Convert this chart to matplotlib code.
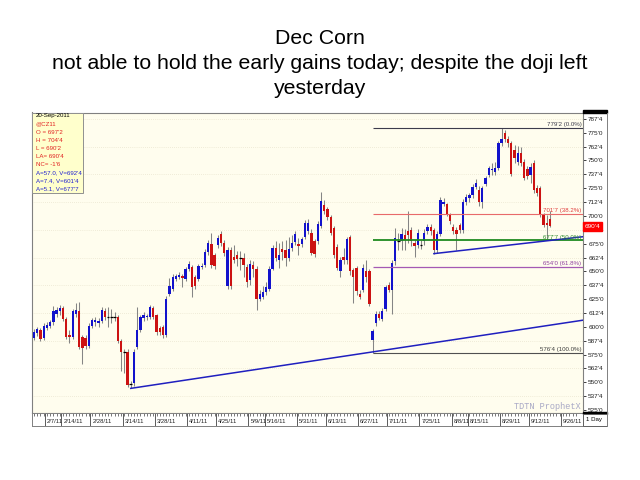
import numpy as np
import pandas as pd
import matplotlib
matplotlib.use("Agg")
import matplotlib.pyplot as plt
import matplotlib.transforms as mtrans
from matplotlib.patches import Rectangle
from matplotlib.ticker import FuncFormatter

plt.rcParams['font.family'] = ['Liberation Sans', 'DejaVu Sans']

# -------------------------
# Dec corn (CZ11) daily bars, 1-Feb-2011 .. 20-Sep-2011 (cents/bu)
# -------------------------
opens = [590, 594, 597, 590, 599, 601, 604, 612, 614, 617,
         607.5, 592.5, 591, 612, 614, 591, 590, 583, 601, 604,
         603, 605, 614.5, 609, 609, 609.25, 609, 587.5, 577.5, 577.5,
         548.5, 549, 582, 597, 608, 609, 609, 617, 610.5, 599,
         600, 592.5, 630, 634.5, 643, 645, 646, 643.5, 652, 654,
         644.5, 643.5, 654, 655.5, 667.5, 674.5, 665, 674, 683.5, 675.5,
         637, 669, 663, 664.5, 663, 662.5, 653.5, 642, 655.5, 652.5,
         625.5, 627, 631.5, 634.5, 652.5, 671, 660, 670, 669, 662.5,
         671, 676.5, 674.5, 675, 681, 686, 685, 677, 677, 691,
         710, 706, 699, 689, 672, 650, 663, 660, 681, 651,
         653, 630, 633, 650, 650, 588, 603, 612, 607, 616,
         638, 633, 659, 677.25, 677, 683, 686, 687, 676, 674,
         674, 677, 686, 690, 687, 669, 684, 711, 710.5, 701.5,
         690, 687, 692, 687, 713, 716, 719, 726, 723, 713,
         729, 737, 741, 740, 743, 765.5, 775, 769, 765.5, 759.5,
         749, 756.5, 749, 742, 737, 747.5, 725, 725, 701, 693.5,
         697.25]
highs = [598, 600, 599, 603, 604, 606, 619, 618, 620, 619,
         609, 597, 616, 621.5, 622.5, 593, 593, 603, 608, 609,
         608, 618, 617, 618, 616, 613, 611, 589, 580, 580,
         551, 580, 617.5, 611, 613, 612, 620, 619, 612, 601,
         602, 628, 644, 647.5, 648, 649, 648, 654, 659, 656,
         647, 657, 658, 670, 678, 684.5, 667, 683, 686, 678,
         672, 672, 673.5, 668, 668, 667, 657, 660, 659, 655,
         633, 637, 640, 655, 674, 677, 676, 677, 678, 681,
         683, 686, 680, 681, 696, 697, 688, 679, 695, 722,
         714, 708, 701, 691, 675, 663, 671, 681, 683, 653,
         655, 633, 657, 660, 652, 598, 614, 614, 617, 638,
         640, 660, 689, 685, 689, 688, 704, 690, 678, 688,
         678, 688, 693, 693, 689, 686, 717, 716, 712, 703,
         693, 690, 694, 715, 720, 721, 729, 733, 727, 727,
         736, 745, 747.5, 749, 768, 779.25, 777.5, 772, 768, 764,
         763, 762, 751, 745, 748, 750, 728, 727, 703, 701,
         704.5]
lows = [588, 592, 587, 588, 597, 599, 602, 609, 611, 605,
        589, 585, 589, 609, 580, 566.5, 580, 581, 599, 601,
        600, 603, 606, 600, 603, 605, 585, 560, 558, 546,
        544.5, 547, 580, 595, 605, 606, 607, 607, 593, 593,
        590, 591, 628, 632, 641, 643, 636, 641, 650, 627,
        634, 641, 652, 654, 665, 653, 652, 671, 673, 664,
        634, 634, 657.5, 655, 651, 645, 636, 638, 645, 615,
        623, 625, 629, 632, 651, 659, 653, 660, 655, 659,
        668, 674, 665, 672, 679, 684, 665, 663, 675, 689,
        702, 696, 683, 662, 651, 645, 657, 657, 647, 621.5,
        629, 625, 631, 640, 619, 576.5, 601, 606, 605, 614,
        631, 612, 656, 669, 669, 669, 676, 673, 663, 671,
        670, 674, 684, 683, 666, 667, 682, 709, 700, 693,
        684, 669, 685, 685, 710, 713, 716, 724, 709, 707,
        727, 735, 737, 737, 741, 763, 767, 762, 736, 748,
        746, 745, 732, 733, 729.5, 721, 718, 699, 690, 679.5,
        690.25]
closes = [595, 598, 589, 601, 602, 604, 614, 615, 617, 607.5,
          591, 591, 614.5, 615, 582, 581, 583, 601, 606, 606,
          605, 615, 609, 609, 609, 609, 587.5, 577.5, 577.5, 547.5,
          548.5, 577.5, 597, 609, 611, 610, 618, 609, 595.5, 595.5,
          592.5, 625, 637, 644.5, 646, 647, 644, 652, 656.5, 636,
          637, 655, 655, 667.5, 675.5, 655.5, 655, 680.5, 675.5, 666.5,
          669, 637, 660, 661, 662.5, 655.5, 640.5, 657, 652.5, 625.5,
          630, 631.5, 635.5, 652.5, 671.5, 662, 665, 667.5, 662.5, 670,
          676, 683.5, 673, 679, 694, 694, 667, 666, 693, 713.5,
          704, 699, 685, 665, 653, 660, 660, 679, 650, 645,
          632, 627, 653, 645, 621, 596, 612, 608, 614.5, 636,
          633, 658, 680, 677, 684, 678, 683, 677, 673, 685,
          674, 685, 690, 686, 669, 684, 714, 713, 702, 695,
          686, 684, 687, 713, 717, 719, 726, 730, 713, 725,
          734, 743, 742, 743, 766, 769, 769, 766, 738, 752,
          756.5, 747.5, 734, 736, 744, 723.5, 721, 701, 692, 692.25,
          690.5]

holidays = ['2011-02-21', '2011-04-22', '2011-05-30', '2011-07-04', '2011-09-05']
label_dates = ['2011-02-07', '2011-02-14', '2011-02-28', '2011-03-14', '2011-03-28',
               '2011-04-11', '2011-04-25', '2011-05-09', '2011-05-16', '2011-05-31',
               '2011-06-13', '2011-06-27', '2011-07-11', '2011-07-25', '2011-08-08',
               '2011-08-15', '2011-08-29', '2011-09-12', '2011-09-26']

# fib retracement of the 6/30 low -> 8/30 high
fib_high = 779.25
fib_low = 576.5
fib_levels = [0.0, 0.382, 0.5, 0.618, 1.0]
fib_colors = ['#3c3c4c', '#e86a6a', '#1f8a1f', '#a45ab4', '#505050']
fib_text_colors = ['#3c3c4c', '#e03c3c', '#2e8b2e', '#9040a0', '#3c3c3c']
fib_widths = [0.8, 0.8, 1.3, 0.9, 0.8]
fib_start = 105

# trend lines: (bar, price) anchors
trend_a = ([30, 160], [544.5, 601.5])
trend_b = ([124, 160], [666.0, 677.875])

info_lines = ["20-Sep-2011", "@CZ11", "O = 697'2", "H = 704'4", "L = 690'2",
              "LA= 690'4", "NC= -1'6", "A=57.0, V=692'4", "A=7.4, V=601'4",
              "A=5.1, V=677'7"]
info_colors = ['black'] + ['#e02020'] * 6 + ['#2020d0'] * 3

last_price = closes[-1]


def eighths(p, pos=None):
    whole = int(np.floor(p + 1e-9))
    e = int(round((p - whole) * 8))
    if e == 8:
        whole += 1
        e = 0
    return f"{whole}'{e}"


W, H = 640, 480


def fx(px):
    return px / W


def fy(py):
    return 1 - py / H


fig = plt.figure(figsize=(6.4, 4.8), dpi=100)
fig.patch.set_facecolor('white')

fig.text(0.5, fy(44), "Dec Corn", ha='center', va='baseline', fontsize=15.3)
fig.text(0.5, fy(69), "not able to hold the early gains today; despite the doji left",
         ha='center', va='baseline', fontsize=15.3)
fig.text(0.5, fy(94), "yesterday", ha='center', va='baseline', fontsize=15.3)

ax = fig.add_axes([fx(32), fy(413), (583 - 32) / W, (413 - 112.5) / H])
ax.set_facecolor('#fffdee')

o = np.array(opens, dtype=float)
h = np.array(highs, dtype=float)
l = np.array(lows, dtype=float)
c = np.array(closes, dtype=float)
x = np.arange(len(c))

bar_px = 3.225
x_left = (32 - 34) / bar_px
x_right = (583 - 34) / bar_px
ax.set_xlim(x_left, x_right)
ax.set_ylim(525 + (410 - 413) / 1.109, 525 + (410 - 112.5) / 1.109)

# faint dotted grid
for g in np.arange(537.5, 790, 25):
    ax.axhline(g, color='#e2dcc4', lw=0.5, ls=(0, (1, 2)), zorder=0)

up = c > o + 0.5
down = c < o - 0.5
flat = ~(up | down)
ax.vlines(x, l, h, color='#858585', lw=0.75, zorder=2)
ax.bar(x[up], (c - o)[up], bottom=o[up], width=0.72, color='#1212cc', zorder=3)
ax.bar(x[down], (o - c)[down], bottom=c[down], width=0.72, color='#cc1212', zorder=3)
ax.hlines(c[flat], x[flat] - 0.4, x[flat] + 0.4, color='black', lw=0.9, zorder=3)

# fib lines
for lvl, col, tcol, lw in zip(fib_levels, fib_colors, fib_text_colors, fib_widths):
    p = fib_high - lvl * (fib_high - fib_low)
    ax.hlines(p, fib_start, x_right, color=col, lw=lw, zorder=4)
    lab = eighths(np.ceil(p * 8 - 1e-6) / 8) + f" ({lvl * 100:.1f}%)"
    ax.text(x_right - 0.5, p + 0.6, lab, ha='right', va='bottom', fontsize=4.4,
            color=tcol, zorder=5)

# trend lines, extended to the right edge
for bars, prices in (trend_a, trend_b):
    slope = (prices[1] - prices[0]) / (bars[1] - bars[0])
    xs = np.array([bars[0], x_right])
    ax.plot(xs, prices[0] + slope * (xs - bars[0]), color='#1f1fbf', lw=1.1, zorder=4)

ax.text(0.995, 0.008, 'TDTN ProphetX', transform=ax.transAxes, ha='right', va='bottom',
        family='Liberation Mono', fontsize=6.2, color='#a9a9c6', zorder=1)

ax.set_xticks([])
ax.yaxis.tick_right()
ax.set_yticks(np.arange(525, 788, 12.5))
ax.yaxis.set_major_formatter(FuncFormatter(eighths))
ax.tick_params(axis='y', length=2.5, width=0.6, labelsize=4.6, pad=1.2, colors='#202020')
for s in ax.spines.values():
    s.set_color('#808080')
    s.set_linewidth(0.8)

# last price marker on the price scale
trans = mtrans.blended_transform_factory(ax.transAxes, ax.transData)
ax.add_patch(Rectangle((1.0, last_price - 4.2), 19 / 551, 8.4, transform=trans,
                       color='#ff0000', clip_on=False, zorder=6))
ax.text(1.0 + 9.5 / 551, last_price, eighths(last_price), transform=trans, ha='center',
        va='center', fontsize=4.6, color='white', clip_on=False, zorder=7)

# date strip
days = pd.bdate_range('2011-02-01', '2011-09-30', freq='C', holidays=holidays)
ax_d = fig.add_axes([fx(32), fy(426), (583 - 32) / W, 13 / H])
ax_d.set_facecolor('white')
ax_d.set_xlim(x_left, x_right)
ax_d.set_ylim(0, 1)
ax_d.set_yticks([])
ax_d.set_xticks([])
ax_d.set_xticks(np.arange(len(days)), minor=True)
ax_d.tick_params(which='minor', direction='in', top=True, bottom=False, length=2.5,
                 width=0.5, color='#404040')
for s in ax_d.spines.values():
    s.set_color('#808080')
    s.set_linewidth(0.7)
for d in label_dates:
    ts = pd.Timestamp(d)
    pos = days.get_loc(ts)
    ax_d.axvline(pos - 0.5, color='#404040', lw=0.6)
    ax_d.text(pos + 0.1, 0.35, f"{ts.month}/{ts.day}/{ts:%y}", ha='left', va='center',
              fontsize=4.2, color='#202020')

# price strip decorations
fig.add_artist(Rectangle((fx(583), fy(112.7)), 24 / W, 2.7 / H, transform=fig.transFigure,
                         color='black', zorder=2))
fig.add_artist(Rectangle((fx(583), fy(414)), 24 / W, 2.3 / H, transform=fig.transFigure,
                         color='black', zorder=2))
fig.add_artist(Rectangle((fx(583), fy(426)), 24 / W, 12 / H, transform=fig.transFigure,
                         facecolor='white', edgecolor='#606060', lw=0.7, zorder=2))
fig.add_artist(plt.Line2D([fx(606.5), fx(606.5)], [fy(112.7), fy(426)],
                          transform=fig.transFigure, color='#808080', lw=0.7))
fig.text(fx(594.5), fy(420), "1 Day", ha='center', va='center', fontsize=4.4)

# info box
fig.add_artist(Rectangle((fx(32), fy(193)), (83 - 32) / W, (193 - 112.5) / H,
                         transform=fig.transFigure, facecolor='#ffffcc',
                         edgecolor='#909090', lw=0.7, zorder=2))
for i, (txt, col) in enumerate(zip(info_lines, info_colors)):
    fig.text(fx(36), fy(116 + i * 8.1), txt, ha='left', va='center', fontsize=4.4,
             color=col, zorder=3)

fig.savefig('out.png', dpi=100)
